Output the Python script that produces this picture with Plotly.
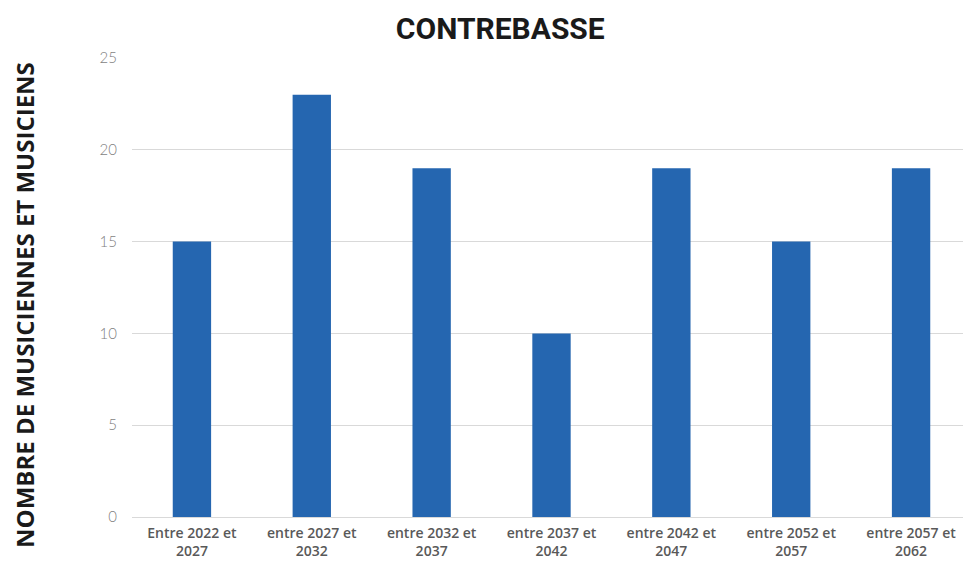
import plotly.graph_objects as go

categories = ["Entre 2022 et<br>2027", "entre 2027 et<br>2032", "entre 2032 et<br>2037",
              "entre 2037 et<br>2042", "entre 2042 et<br>2047", "entre 2052 et<br>2057",
              "entre 2057 et<br>2062"]
values = [15, 23, 19, 10, 19, 15, 19]
y_ticks = [0, 5, 10, 15, 20, 25]

fig = go.Figure()
fig.add_trace(go.Bar(x=categories, y=values, marker=dict(color="#2566B0", line=dict(width=0)),
                     hoverinfo="x+y"))

fig.update_layout(
    width=971, height=562,
    margin=dict(l=124, r=8, t=50, b=53),
    paper_bgcolor="white", plot_bgcolor="white",
    bargap=0.68,
    showlegend=False,
    title=dict(text="<b>CONTREBASSE</b>", x=0.507, xanchor="center", y=0.964, yanchor="middle",
               font=dict(family="Roboto", size=30, color="#1a1a1a")),
    font=dict(family="Lato", color="#595959"),
)
fig.update_yaxes(range=[0, 25], tickvals=y_ticks, showgrid=True, gridcolor="#D9D9D9", gridwidth=1,
                 zeroline=False, showline=False, ticks="", ticklabelstandoff=14, automargin=False,
                 tickfont=dict(family="Lato", size=15, color="#7f7f7f", weight=300))
fig.update_xaxes(showline=True, linecolor="#D9D9D9", linewidth=1, ticks="", ticklabelstandoff=3,
                 automargin=False,
                 tickfont=dict(family="Open Sans", size=14, color="#595959", weight=600))
fig.add_annotation(text="<b>NOMBRE DE MUSICIENNES ET MUSICIENS</b>", textangle=-90,
                   xref="paper", yref="paper", x=0, xshift=-107, y=0.462, xanchor="center", yanchor="middle",
                   showarrow=False, font=dict(family="Open Sans", size=24, color="#1a1a1a"))

fig.write_html("out.html")
